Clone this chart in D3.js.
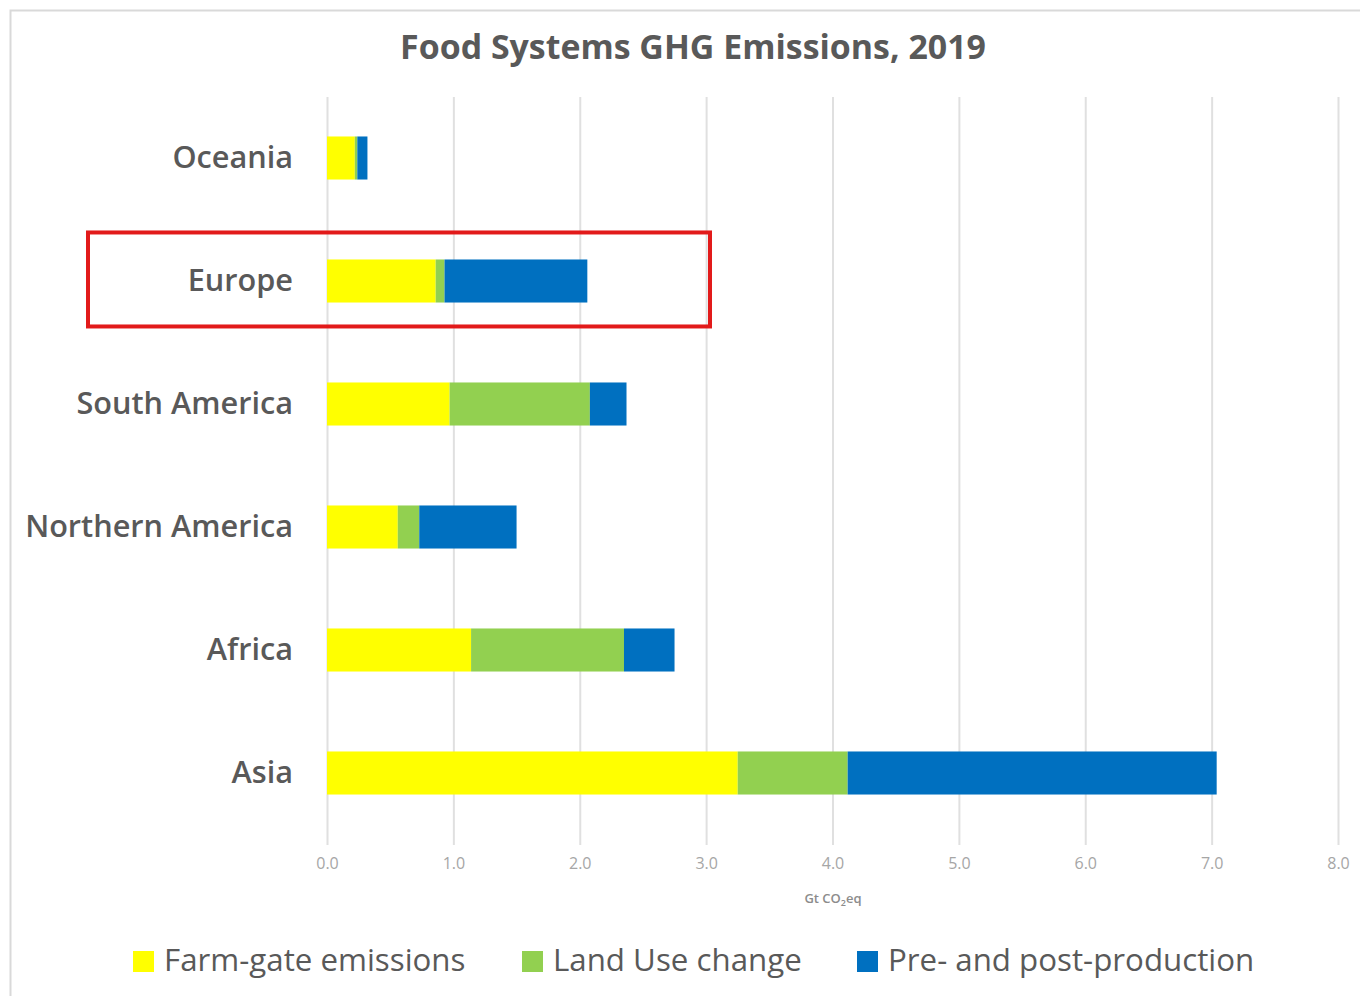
<!DOCTYPE html>
<html><head><meta charset="utf-8">
<script src="https://cdn.jsdelivr.net/npm/d3@7"></script>
<style>body{margin:0;background:#fff;} svg{display:block;}</style>
</head><body>
<svg id="c" width="1360" height="996"></svg>
<script>
const regions = ["Oceania","Europe","South America","Northern America","Africa","Asia"];
const farmGate = [0.22, 0.86, 0.97, 0.56, 1.14, 3.25];
const landUse  = [0.02, 0.07, 1.11, 0.17, 1.21, 0.87];
const prePost  = [0.08, 1.13, 0.29, 0.77, 0.40, 2.92];
const seriesNames = ["Farm-gate emissions","Land Use change","Pre- and post-production"];
const seriesColors = ["#FFFF00","#92D050","#0070C0"];
const xTicks = [0,1,2,3,4,5,6,7,8];
const title = "Food Systems GHG Emissions, 2019";
const highlighted = "Europe";

const FONT = "'Open Sans', Lato, sans-serif";
const svg = d3.select("#c");

// fit font size of a text selection to a target width
function fit(sel, target) {
  const w = sel.node().getComputedTextLength();
  const fs = parseFloat(sel.attr("font-size"));
  return fs * target / w;
}

// chart border
svg.append("rect").attr("x",10.5).attr("y",10.5).attr("width",1360).attr("height",990)
  .attr("fill","#fff").attr("stroke","#d9d9d9").attr("stroke-width",2);

const x = d3.scaleLinear().domain([0,8]).range([327,1338]);
const y = d3.scaleBand().domain(regions).range([96.5,834.5]).paddingInner(0.65).paddingOuter(0.325);

// gridlines
svg.append("g").selectAll("line").data(xTicks).join("line")
  .attr("x1",d=>x(d)+0.5).attr("x2",d=>x(d)+0.5).attr("y1",97).attr("y2",845)
  .attr("stroke","#e0e0e0").attr("stroke-width",2);

// stacked data
const rows = regions.map((r,i)=>({region:r, s0:farmGate[i], s1:landUse[i], s2:prePost[i]}));
const stack = d3.stack().keys(["s0","s1","s2"])(rows);
svg.append("g").selectAll("g").data(stack).join("g")
  .attr("fill",(d,i)=>seriesColors[i])
  .selectAll("rect").data(d=>d).join("rect")
  .attr("x",d=>x(d[0])).attr("width",d=>x(d[1])-x(d[0]))
  .attr("y",d=>y(d.data.region)).attr("height",y.bandwidth());

// x axis tick labels
const xAxis = d3.axisBottom(x).tickValues(xTicks).tickFormat(d3.format(".1f")).tickSize(0);
const gx = svg.append("g").attr("transform","translate(0,855)").call(xAxis);
gx.select(".domain").remove();
gx.selectAll("text").attr("font-family",FONT).attr("font-size",16).attr("fill","#a6a6a6");

// axis label
const al = svg.append("text").attr("x",833).attr("y",903).attr("text-anchor","middle")
  .attr("font-family",FONT).attr("font-size",13).attr("font-weight",600).attr("fill","#8c8c8c");
al.append("tspan").text("Gt CO");
al.append("tspan").attr("font-size",9).attr("dy",3).text("2");
al.append("tspan").attr("dy",-3).text("eq");

// y axis labels
const yAxis = d3.axisLeft(y).tickSize(0).tickPadding(34);
const gy = svg.append("g").attr("transform","translate(327,0)").call(yAxis);
gy.select(".domain").remove();
gy.selectAll("text").attr("font-family",FONT).attr("font-size",30).attr("font-weight",600).attr("fill","#595959");
const longest = gy.selectAll("text").filter(d=>d==="Northern America");
const yfs = fit(longest, 268);
gy.selectAll("text").attr("font-size",yfs);

// title
const t = svg.append("text").attr("x",693).attr("y",59).attr("text-anchor","middle")
  .attr("font-family",FONT).attr("font-size",32).attr("font-weight",700).attr("fill","#595959").text(title);
t.attr("font-size", fit(t, 586));

// legend
const legX = [133, 522, 857];
const legW = [301, 247, 370];
const lg = svg.append("g").selectAll("g").data(seriesNames).join("g")
  .attr("transform",(d,i)=>`translate(${legX[i]},951)`);
lg.append("rect").attr("width",21).attr("height",21).attr("fill",(d,i)=>seriesColors[i]);
const lt = lg.append("text").attr("x",31).attr("y",20).attr("font-family",FONT).attr("font-size",30)
  .attr("fill","#595959").text(d=>d);
let lfs = 0;
lt.each(function(d,i){ lfs += fit(d3.select(this), legW[i]) / 3; });
lt.attr("font-size", lfs);

// highlight box around Europe
const yb = y(highlighted);
svg.append("rect").attr("x",88).attr("y",yb-27).attr("width",622).attr("height",94)
  .attr("fill","none").attr("stroke","#e21a1a").attr("stroke-width",4);
</script>
</body></html>
